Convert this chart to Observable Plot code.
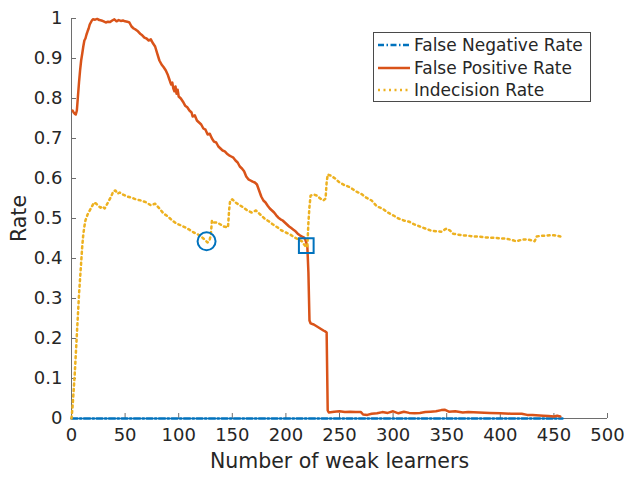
<!DOCTYPE html>
<html>
<head>
<meta charset="utf-8">
<script src="https://cdn.jsdelivr.net/npm/d3@7"></script>
<script src="https://cdn.jsdelivr.net/npm/@observablehq/plot@0.6"></script>
<style>
  html, body { margin: 0; padding: 0; background: #fff; }
  #wrap { position: relative; width: 624px; height: 479px; font-family: "DejaVu Sans", sans-serif; }
  #legend { position: absolute; left: 373px; top: 32px; width: 216px; height: 68px; border: 1px solid #4a4a4a; background: #fff; box-sizing: content-box; }
  #legend .row { position: absolute; left: 0; height: 22px; display: flex; align-items: center; font-size: 17px; color: #262626; white-space: nowrap; }
  #legend svg { margin-left: 4px; margin-right: 4px; }
</style>
</head>
<body>
<div id="wrap"></div>
<script>
// ---- data ----
const xTicks = [0, 50, 100, 150, 200, 250, 300, 350, 400, 450, 500];
const yTicks = [0, 0.1, 0.2, 0.3, 0.4, 0.5, 0.6, 0.7, 0.8, 0.9, 1];
const xLabel = "Number of weak learners";
const yLabel = "Rate";
const seriesNames = ["False Negative Rate", "False Positive Rate", "Indecision Rate"];
const seriesColors = ["#0072BD", "#D95319", "#EDB120"];

const fnrX = [0, 458];
const fnrY = [0, 0];

const fprX = [1,2,3,4,5,6,7,8,9,10,11,12,13,14,15,16,17,18,19,20,22,24,26,28,30,32,34,36,38,40,42,44,46,48,50,52,54,56,58,60,62,64,66,68,70,72,74,76,78,80,82,84,86,88,90,91,92,93,94,95,96,97,98,99,100,102,104,106,108,110,112,113,115,117,119,121,123,125,127,129,131,133,135,137,139,141,143,145,147,149,151,153,155,157,159,161,163,165,167,169,171,173,175,177,179,181,183,185,187,189,191,193,195,197,199,201,203,205,207,209,211,213,215,217,218,219,220,221,222,223,226,229,232,235,237,238,239,240,245,250,255,260,265,270,272,276,280,285,290,295,300,305,310,315,320,325,330,335,340,345,348,352,358,365,370,380,390,400,410,420,425,430,440,445,450,453,456];
const fprY = [0.770,0.765,0.762,0.760,0.770,0.805,0.840,0.870,0.895,0.912,0.930,0.945,0.950,0.960,0.968,0.975,0.985,0.990,0.995,0.998,0.997,0.999,0.996,0.995,0.993,0.990,0.992,0.991,0.995,0.998,0.993,0.996,0.994,0.995,0.993,0.992,0.990,0.980,0.975,0.972,0.968,0.962,0.958,0.952,0.950,0.945,0.948,0.938,0.930,0.912,0.895,0.885,0.878,0.870,0.858,0.850,0.842,0.835,0.840,0.825,0.818,0.830,0.812,0.822,0.805,0.800,0.792,0.782,0.778,0.770,0.765,0.755,0.758,0.745,0.740,0.735,0.725,0.722,0.710,0.712,0.700,0.692,0.690,0.680,0.675,0.670,0.668,0.662,0.658,0.655,0.652,0.645,0.640,0.630,0.625,0.618,0.605,0.598,0.595,0.592,0.590,0.585,0.570,0.555,0.545,0.540,0.532,0.525,0.520,0.515,0.508,0.502,0.498,0.495,0.490,0.485,0.480,0.476,0.472,0.468,0.462,0.458,0.455,0.452,0.448,0.440,0.430,0.365,0.245,0.238,0.235,0.230,0.225,0.220,0.217,0.215,0.020,0.015,0.017,0.018,0.016,0.017,0.016,0.016,0.010,0.009,0.012,0.013,0.016,0.014,0.018,0.013,0.017,0.014,0.013,0.014,0.016,0.017,0.018,0.021,0.022,0.017,0.018,0.015,0.016,0.015,0.014,0.013,0.012,0.012,0.009,0.009,0.007,0.006,0.005,0.007,0.005];

const indX = [0,1,2,3,4,5,6,7,8,9,10,11,12,13,15,17,19,21,23,25,27,29,31,33,35,37,39,41,43,45,48,52,56,60,65,70,74,78,82,86,90,94,98,102,106,110,114,118,121,123,125,127,129,130,131,133,136,139,142,146,147,148,150,153,156,160,164,168,172,176,180,184,188,192,196,200,204,208,212,215,217,219,220,221,222,223,226,229,232,235,237,238,239,242,246,250,255,260,265,270,275,280,285,290,295,300,305,310,315,320,325,330,335,340,345,348,350,353,356,360,365,370,375,380,385,390,395,400,405,410,415,420,425,430,432,434,438,442,446,450,453,456];
const indY = [0,0.03,0.07,0.11,0.16,0.21,0.26,0.31,0.35,0.39,0.43,0.46,0.48,0.495,0.51,0.52,0.53,0.54,0.537,0.532,0.527,0.53,0.525,0.535,0.545,0.555,0.568,0.57,0.562,0.565,0.56,0.555,0.552,0.548,0.545,0.54,0.533,0.537,0.525,0.512,0.505,0.495,0.487,0.483,0.478,0.472,0.465,0.46,0.455,0.45,0.445,0.44,0.448,0.46,0.495,0.49,0.49,0.485,0.48,0.478,0.52,0.545,0.548,0.54,0.535,0.528,0.52,0.515,0.52,0.51,0.5,0.493,0.485,0.478,0.47,0.465,0.46,0.453,0.447,0.443,0.435,0.428,0.43,0.49,0.53,0.557,0.56,0.557,0.55,0.545,0.55,0.59,0.61,0.607,0.6,0.59,0.583,0.578,0.568,0.562,0.552,0.545,0.53,0.525,0.515,0.508,0.5,0.495,0.492,0.485,0.48,0.475,0.47,0.468,0.467,0.472,0.475,0.47,0.462,0.46,0.458,0.457,0.455,0.455,0.453,0.452,0.452,0.45,0.45,0.447,0.443,0.447,0.448,0.445,0.443,0.455,0.457,0.457,0.458,0.458,0.457,0.455];

const circleX = [126];
const circleY = [0.443];
const squareX = [219];
const squareY = [0.432];

// ---- tables ----
const fnr = fnrX.map((x, i) => ({x, y: fnrY[i]}));
const fpr = fprX.map((x, i) => ({x, y: fprY[i]}));
const ind = indX.map((x, i) => ({x, y: indY[i]}));
const circ = circleX.map((x, i) => ({x, y: circleY[i]}));
const sq = squareX.map((x, i) => ({x, y: squareY[i]}));

const dashes = ["6,2.5,1.5,2.5", null, "2,3.5"];
const axisColor = "#6e6e6e";
const textColor = "#262626";

const chart = Plot.plot({
  width: 624,
  height: 479,
  marginLeft: 71,
  marginRight: 17,
  marginTop: 18,
  marginBottom: 61,
  style: {fontFamily: "'DejaVu Sans', sans-serif", color: textColor, background: "#fff"},
  x: {domain: [0, 500]},
  y: {domain: [0, 1]},
  marks: [
    Plot.axisX(xTicks, {tickSize: 0, tickPadding: 10, fontSize: 18, fill: textColor, label: null, tickFormat: d => String(d)}),
    Plot.axisY(yTicks, {tickSize: 0, tickPadding: 9, fontSize: 18, fill: textColor, label: null, tickFormat: d => String(d)}),
    Plot.tickX(xTicks, {x: d => d, stroke: axisColor, strokeWidth: 1, insetTop: 395}),
    Plot.tickY(yTicks, {y: d => d, stroke: axisColor, strokeWidth: 1, insetRight: 531}),
    Plot.ruleY([0], {stroke: axisColor, strokeWidth: 1}),
    Plot.ruleX([0], {stroke: axisColor, strokeWidth: 1}),
    Plot.text([xLabel], {frameAnchor: "bottom", textAnchor: "middle", lineAnchor: "top", dy: 35, fontSize: 20.5, fill: textColor}),
    Plot.text([yLabel], {frameAnchor: "left", textAnchor: "middle", rotate: -90, dx: -52, fontSize: 20.5, fill: textColor}),
    Plot.line(fnr, {x: "x", y: "y", stroke: seriesColors[0], strokeWidth: 2.5, strokeDasharray: dashes[0]}),
    Plot.line(fpr, {x: "x", y: "y", stroke: seriesColors[1], strokeWidth: 2.5, strokeLinejoin: "round"}),
    Plot.line(ind, {x: "x", y: "y", stroke: seriesColors[2], strokeWidth: 2.5, strokeDasharray: dashes[2]}),
    Plot.dot(circ, {x: "x", y: "y", r: 9, stroke: seriesColors[0], strokeWidth: 2, fill: "none"}),
    Plot.dot(sq, {x: "x", y: "y", symbol: "square", r: 8.3, stroke: seriesColors[0], strokeWidth: 2, fill: "none"})
  ]
});

const wrap = document.getElementById("wrap");
wrap.appendChild(chart);

// ---- legend ----
const legend = document.createElement("div");
legend.id = "legend";
const rowTops = [1, 24, 46];
seriesNames.forEach((name, i) => {
  const row = document.createElement("div");
  row.className = "row";
  row.style.top = rowTops[i] + "px";
  const s = d3.create("svg").attr("width", 32).attr("height", 10);
  s.append("line").attr("x1", 0).attr("x2", 32).attr("y1", 5).attr("y2", 5)
    .attr("stroke", seriesColors[i]).attr("stroke-width", 2.5)
    .attr("stroke-dasharray", dashes[i]);
  row.appendChild(s.node());
  const t = document.createElement("span");
  t.textContent = name;
  row.appendChild(t);
  legend.appendChild(row);
});
wrap.appendChild(legend);
</script>
</body>
</html>
